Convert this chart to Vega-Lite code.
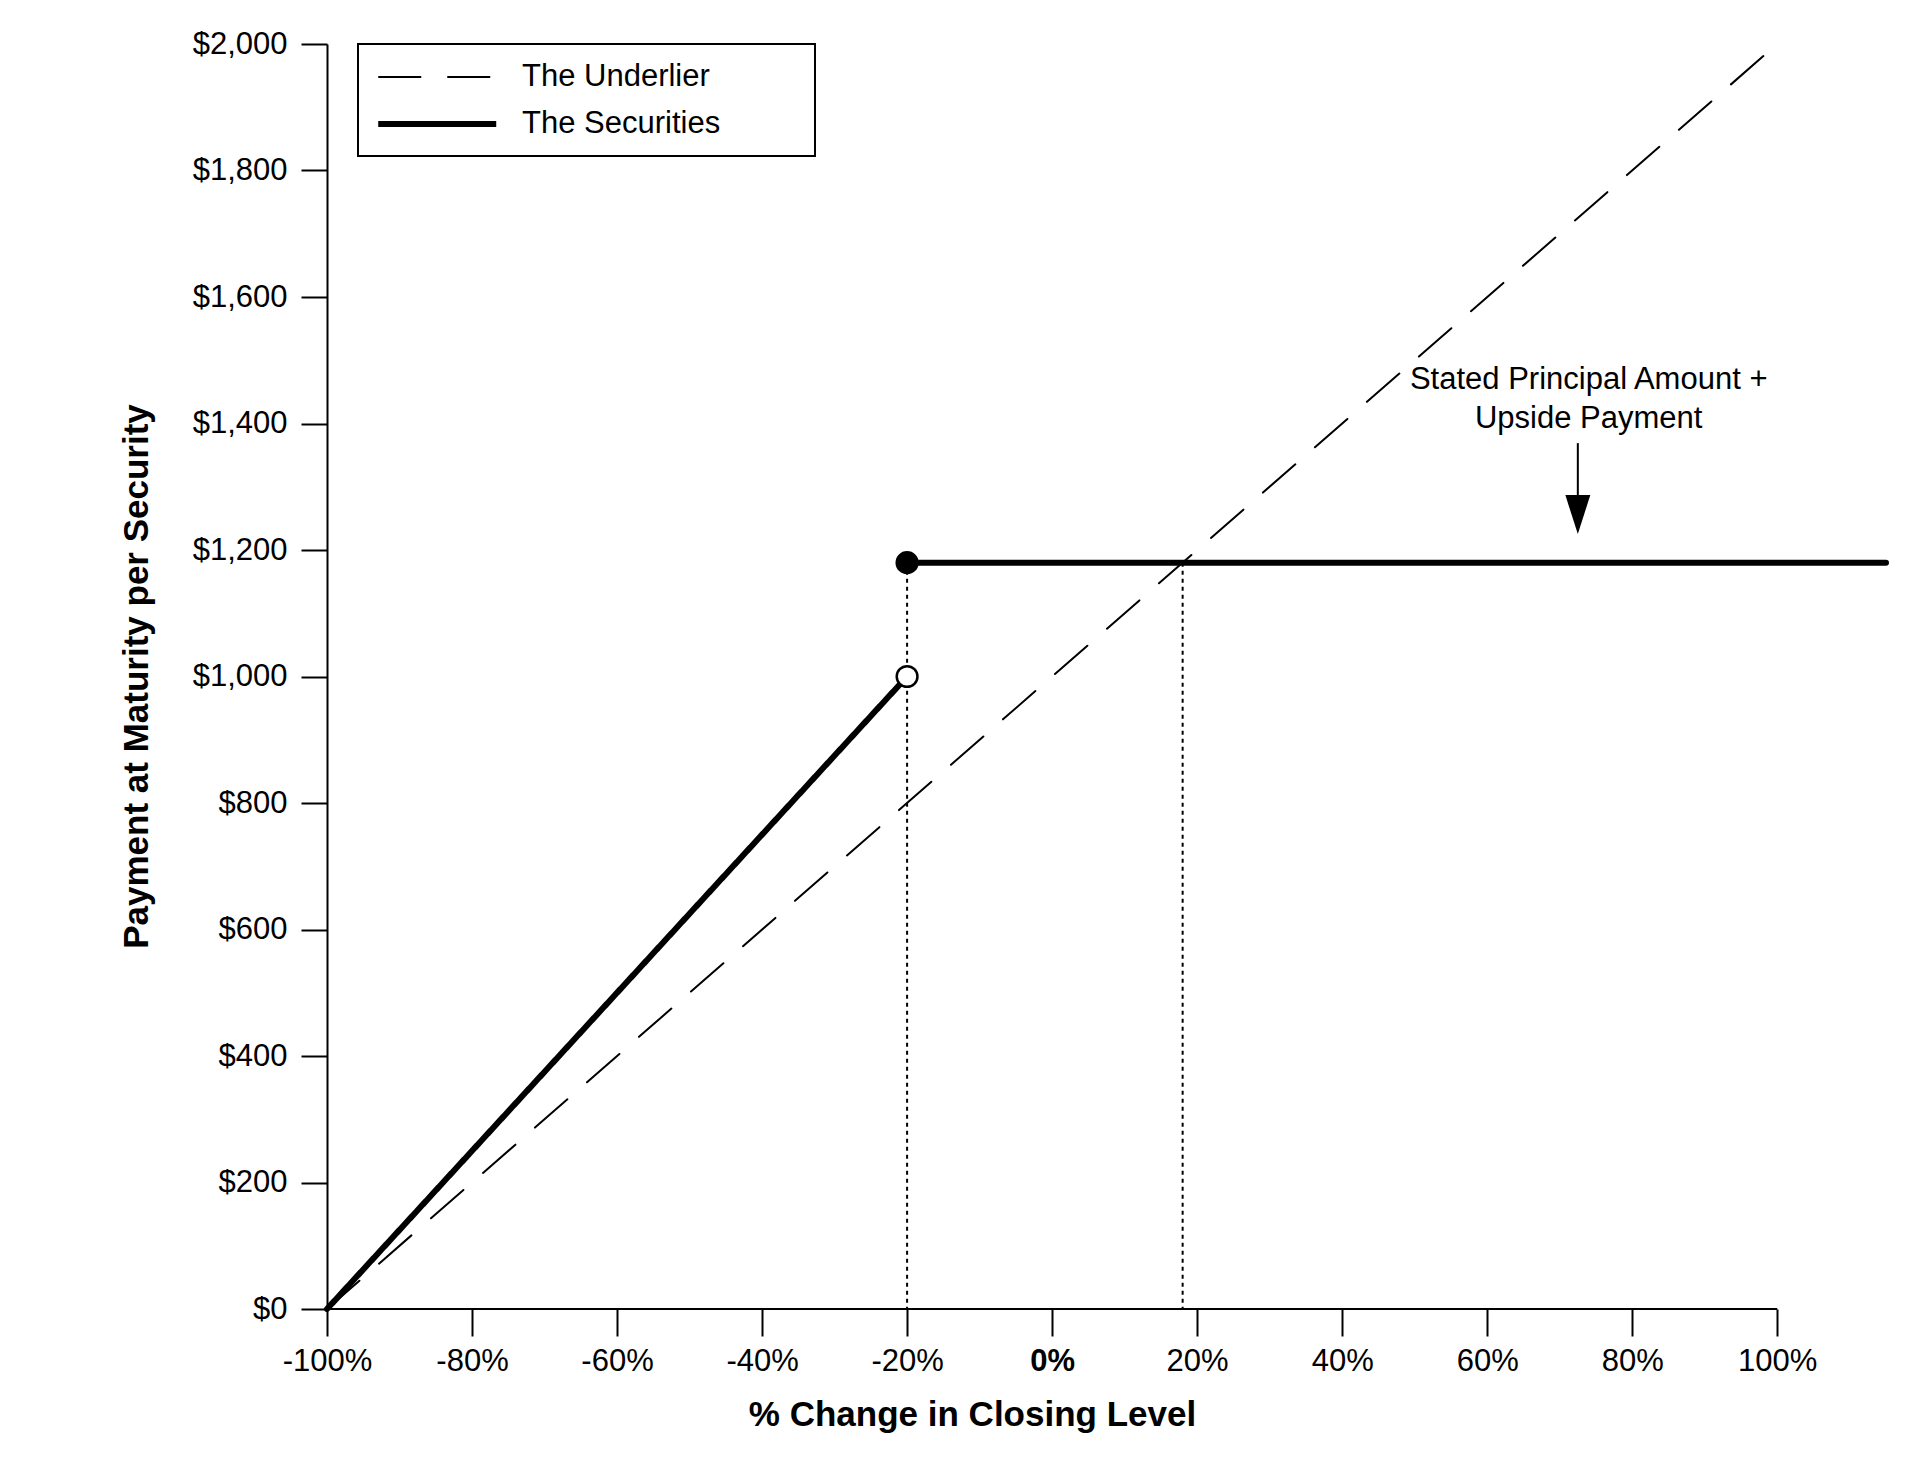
{
  "$schema": "https://vega.github.io/schema/vega-lite/v6.json",
  "width": 1559,
  "height": 1265,
  "autosize": {"type": "none"},
  "padding": {"left": 327, "top": 44, "right": 29, "bottom": 149},
  "background": "white",
  "config": {
    "font": "Liberation Sans",
    "view": {"stroke": null},
    "axis": {
      "grid": false,
      "domainColor": "black",
      "domainWidth": 2,
      "tickColor": "black",
      "tickWidth": 2,
      "labelColor": "black",
      "labelFont": "Liberation Sans",
      "labelFontSize": 31,
      "labelFlush": false,
      "titleColor": "black",
      "titleFont": "Liberation Sans",
      "titleFontSize": 35,
      "titleFontWeight": "bold"
    }
  },
  "datasets": {
    "payoff": [
      {"series": "The Underlier", "segment": "u", "pct": -100, "payment": 0},
      {"series": "The Underlier", "segment": "u", "pct": 100, "payment": 2000},
      {"series": "The Securities", "segment": "s1", "pct": -100, "payment": 0},
      {"series": "The Securities", "segment": "s1", "pct": -20, "payment": 1000},
      {"series": "The Securities", "segment": "s2", "pct": -20, "payment": 1180},
      {"series": "The Securities", "segment": "s2", "pct": 115, "payment": 1180}
    ],
    "guides": [
      {"pct": -20, "payment": 1180},
      {"pct": 18, "payment": 1180}
    ],
    "markers": [
      {"pct": -20, "payment": 1180, "kind": "filled"},
      {"pct": -20, "payment": 1000, "kind": "open"}
    ],
    "axisline": [
      {"pct": -100, "pct2": 100, "payment": 0}
    ],
    "arrow": [
      {"pct": 72.5, "payment": 1369, "payment2": 1287, "head": 1256}
    ],
    "note": [
      {"pct": 74, "payment": 1455, "text": "Stated Principal Amount +"},
      {"pct": 74, "payment": 1393, "text": "Upside Payment"}
    ]
  },
  "encoding": {
    "x": {
      "field": "pct",
      "type": "quantitative",
      "scale": {"domain": [-100, 115], "nice": false, "zero": false},
      "axis": {
        "title": "% Change in Closing Level",
        "values": [-100, -80, -60, -40, -20, 0, 20, 40, 60, 80, 100],
        "labelExpr": "datum.value + '%'",
        "labelFontWeight": {"condition": {"test": "datum.value === 0", "value": "bold"}, "value": "normal"},
        "domain": false,
        "tickSize": 27,
        "labelPadding": 34,
        "labelBaseline": "alphabetic",
        "titleX": 645,
        "titleY": 116,
        "titleAlign": "center",
        "titleBaseline": "alphabetic"
      }
    },
    "y": {
      "field": "payment",
      "type": "quantitative",
      "scale": {"domain": [0, 2000], "nice": false},
      "axis": {
        "title": "Payment at Maturity per Security",
        "values": [0, 200, 400, 600, 800, 1000, 1200, 1400, 1600, 1800, 2000],
        "format": "$,.0f",
        "tickSize": 26,
        "labelPadding": 14,
        "titleX": -180,
        "titleY": 632,
        "titleAlign": "center",
        "titleBaseline": "alphabetic"
      }
    }
  },
  "layer": [
    {
      "data": {"name": "guides"},
      "mark": {"type": "rule", "color": "black", "strokeWidth": 2, "strokeDash": [4, 4]},
      "encoding": {"y2": {"datum": 0}}
    },
    {
      "data": {"name": "axisline"},
      "mark": {"type": "rule", "color": "black", "strokeWidth": 2},
      "encoding": {"x2": {"field": "pct2"}}
    },
    {
      "data": {"name": "payoff"},
      "mark": {"type": "line", "color": "black", "strokeCap": "round"},
      "encoding": {
        "detail": {"field": "segment"},
        "strokeDash": {
          "field": "series",
          "type": "nominal",
          "scale": {"domain": ["The Underlier", "The Securities"], "range": [[43, 26], [1, 0]]},
          "legend": {
            "title": null,
            "orient": "none",
            "legendX": 31,
            "legendY": 0,
            "direction": "vertical",
            "fillColor": "white",
            "strokeColor": "black",
            "padding": 17,
            "symbolType": "M-1,0L7,0",
            "symbolSize": 870,
            "symbolStrokeColor": "black",
            "labelFont": "Liberation Sans",
            "labelFontSize": 31,
            "labelColor": "black",
            "labelLimit": 600,
            "labelOffset": 111,
            "rowPadding": 14,
            "labelExpr": "datum.label + '\u00a0\u00a0\u00a0\u00a0\u00a0\u00a0\u00a0\u00a0\u00a0\u200b'",
            "encode": {"legend": {"update": {"strokeWidth": {"value": 2}}}}
          }
        },
        "strokeWidth": {
          "field": "series",
          "type": "nominal",
          "scale": {"domain": ["The Underlier", "The Securities"], "range": [2, 6]}
        }
      }
    },
    {
      "data": {"name": "markers"},
      "mark": {"type": "point", "filled": true, "stroke": "black", "strokeWidth": 2.5, "size": 430, "opacity": 1},
      "encoding": {
        "fill": {
          "field": "kind",
          "type": "nominal",
          "scale": {"domain": ["filled", "open"], "range": ["black", "white"]},
          "legend": null
        }
      }
    },
    {
      "data": {"name": "arrow"},
      "mark": {"type": "rule", "color": "black", "strokeWidth": 2},
      "encoding": {"y2": {"field": "payment2"}}
    },
    {
      "data": {"name": "arrow"},
      "mark": {"type": "point", "filled": true, "color": "black", "opacity": 1, "shape": "M-0.64,-1L0.64,-1L0,1Z", "size": 1521},
      "encoding": {"y": {"field": "head", "type": "quantitative"}}
    },
    {
      "data": {"name": "note"},
      "mark": {"type": "text", "color": "black", "fontSize": 31, "align": "center", "baseline": "alphabetic"},
      "encoding": {"text": {"field": "text"}}
    }
  ]
}
